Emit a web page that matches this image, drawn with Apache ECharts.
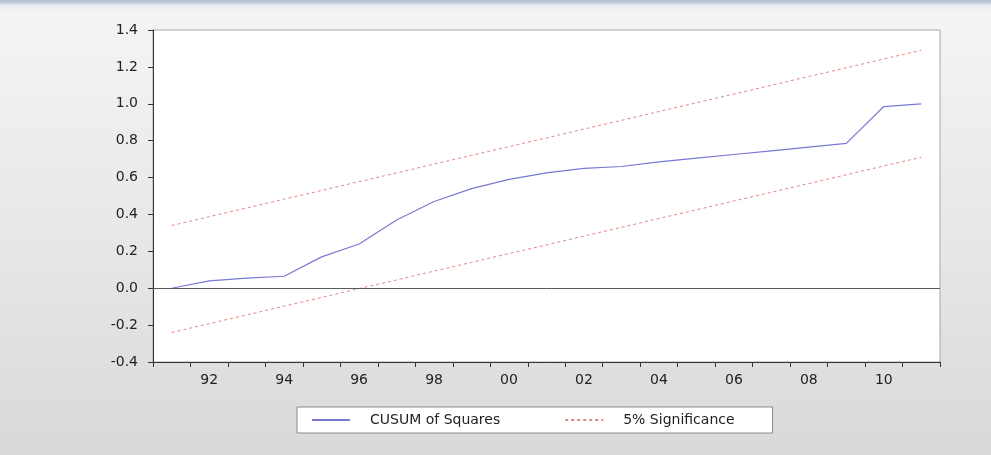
<!DOCTYPE html>
<html>
<head>
<meta charset="utf-8">
<script src="https://cdn.jsdelivr.net/npm/echarts@6/dist/echarts.min.js"></script>
<style>
  html, body { margin: 0; padding: 0; }
  body {
    width: 991px; height: 455px; overflow: hidden;
    background: linear-gradient(to bottom, #b9c3d1 0px, #c3ccd8 3px, #e8edf3 5px, #f4f4f4 14px, #e8e8e8 50%, #d9d9d9 100%);
  }
  #chart { width: 991px; height: 455px; }
</style>
</head>
<body>
<div id="chart"></div>
<script>
// Categories (annual observations)
const years = ['1991','1992','1993','1994','1995','1996','1997','1998','1999','2000',
               '2001','2002','2003','2004','2005','2006','2007','2008','2009','2010','2011'];
// CUSUM of Squares
const cusumSq = [0.00, 0.04, 0.055, 0.065, 0.17, 0.24, 0.37, 0.47, 0.54, 0.59,
                 0.625, 0.65, 0.66, 0.685, 0.705, 0.725, 0.745, 0.765, 0.785, 0.985, 1.00];
// 5% significance bounds
const upperBound = [0.34, 0.388, 0.435, 0.483, 0.53, 0.578, 0.625, 0.673, 0.72, 0.768,
                    0.815, 0.863, 0.91, 0.958, 1.005, 1.053, 1.10, 1.148, 1.195, 1.243, 1.29];
const lowerBound = [-0.24, -0.192, -0.145, -0.097, -0.05, -0.002, 0.045, 0.093, 0.14, 0.188,
                    0.235, 0.283, 0.33, 0.378, 0.425, 0.473, 0.52, 0.568, 0.615, 0.663, 0.71];
// Y axis ticks
const yMin = -0.4, yMax = 1.4, yStep = 0.2;

const FONT = 'DejaVu Sans';
const chart = echarts.init(document.getElementById('chart'), null, { renderer: 'canvas' });

chart.setOption({
  backgroundColor: 'transparent',
  animation: false,
  grid: {
    left: 153, top: 30, right: 51, bottom: 93,
    show: true, backgroundColor: '#ffffff', borderColor: '#a8a8a8', borderWidth: 1
  },
  legend: {
    left: 297, top: 407,
    padding: [6, 38, 6, 14],
    backgroundColor: '#ffffff',
    borderColor: '#8a8a8a', borderWidth: 1,
    itemWidth: 38, itemHeight: 14, itemGap: 64,
    itemStyle: { opacity: 0 },
    data: ['CUSUM of Squares', '5% Significance'],
    formatter: function (n) { return '{t|' + n + '}'; },
    textStyle: {
      fontFamily: FONT, fontSize: 14, color: '#222222',
      rich: { t: { fontFamily: FONT, fontSize: 14, color: '#222222', padding: [0, 0, 0, 15] } }
    }
  },
  xAxis: {
    type: 'category',
    data: years,
    boundaryGap: true,
    axisLine: { onZero: false, lineStyle: { color: '#333333', width: 1 } },
    axisTick: { show: true, interval: 0, alignWithLabel: false, length: 5, lineStyle: { color: '#333333' } },
    axisLabel: {
      interval: function (i) { return i % 2 === 1; },
      formatter: function (v) { return v.slice(2); },
      fontFamily: FONT, fontSize: 14, color: '#222222', margin: 11
    },
    splitLine: { show: false }
  },
  yAxis: {
    type: 'value',
    min: yMin, max: yMax, interval: yStep,
    axisLine: { show: true, lineStyle: { color: '#333333', width: 1 } },
    axisTick: { show: true, length: 5, lineStyle: { color: '#333333' } },
    axisLabel: {
      formatter: function (v) { return (Math.abs(v) < 1e-9 ? 0 : v).toFixed(1); },
      fontFamily: FONT, fontSize: 14, color: '#222222', margin: 15
    },
    splitLine: { show: false }
  },
  series: [
    {
      name: 'CUSUM of Squares', type: 'line', data: cusumSq,
      symbol: 'none', smooth: false,
      lineStyle: { color: '#7878d6', width: 1.2 },
      itemStyle: { color: '#7878d6' },
      z: 3,
      markLine: {
        silent: true, symbol: ['none', 'none'],
        label: { show: false },
        lineStyle: { color: '#5a5a5a', width: 1, type: 'solid' },
        data: [{ yAxis: 0 }]
      }
    },
    {
      name: '5% Significance', type: 'line', data: upperBound,
      symbol: 'none',
      lineStyle: { color: '#e38585', width: 1, type: [3, 3] },
      itemStyle: { color: '#e38585' }
    },
    {
      name: '5% Significance', type: 'line', data: lowerBound,
      symbol: 'none',
      lineStyle: { color: '#e38585', width: 1, type: [3, 3] },
      itemStyle: { color: '#e38585' }
    }
  ]
});
</script>
</body>
</html>
